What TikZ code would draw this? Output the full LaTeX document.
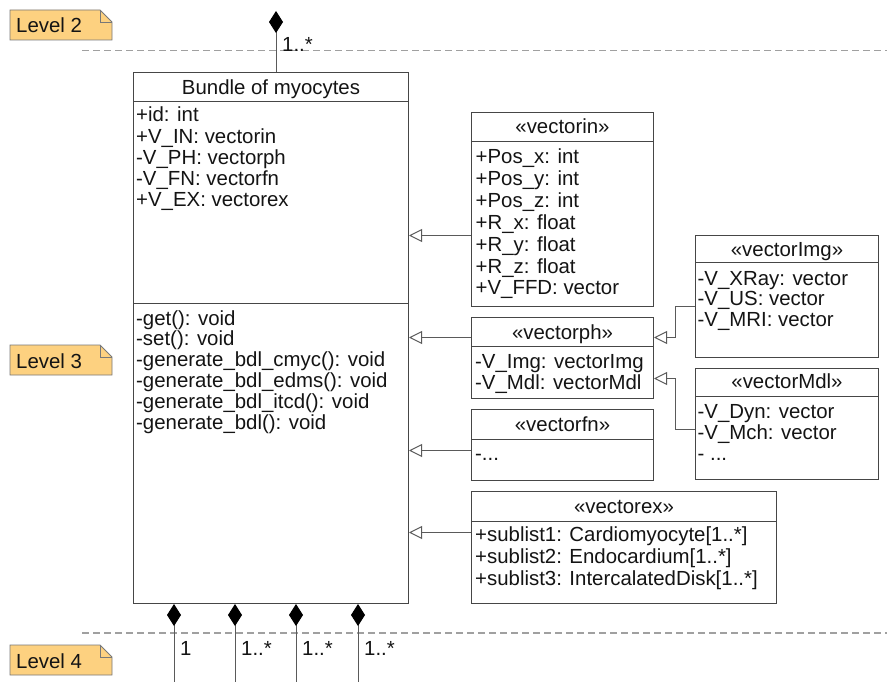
\documentclass[tikz,border=0pt]{standalone}
\usepackage{fontspec}
\setmainfont{Liberation Sans}
\usetikzlibrary{arrows.meta}

\definecolor{notefill}{RGB}{253,209,128}
\definecolor{noteline}{RGB}{120,120,120}
\definecolor{boxline}{RGB}{70,70,70}
\definecolor{linkline}{RGB}{90,90,90}
\definecolor{levelline}{RGB}{160,160,160}
\definecolor{ink}{RGB}{20,20,20}

\begin{document}
\begin{tikzpicture}[x=1pt,y=-1pt,
  classbox/.style={draw=boxline, line width=1pt, fill=white, inner sep=0pt, anchor=north west},
  sepline/.style={draw=boxline, line width=1pt},
  txt/.style={font=\fontsize{20.4}{22}\selectfont, text=ink, inner sep=0pt, anchor=base west},
  title/.style={txt, anchor=base},
  gen/.style={draw=linkline, line width=1pt, -{Triangle[open,length=13pt,width=13pt]}},
  comp/.style={draw=linkline, line width=1pt, {Diamond[length=22pt,width=14pt,color=black]}-},
  level/.style={draw=levelline, line width=1.2pt, dash pattern=on 7pt off 4pt},
  note/.style={draw=noteline, fill=notefill, line width=0.8pt},
]
\useasboundingbox (0,0) rectangle (887,682);

% ---- level separators ----
\draw[level] (82,50.5) -- (887,50.5);
\draw[level] (82,633) -- (887,633);

% ---- level notes ----
\foreach \lv/\yt in {2/10,3/345,4/645} {
  \path[note] (10,\yt) -- (100,\yt) -- (112,{\yt+12}) -- (112,{\yt+30}) -- (10,{\yt+30}) -- cycle;
  \draw[draw=noteline, line width=0.8pt] (100,\yt) -- (100,{\yt+12}) -- (112,{\yt+12});
  \node[txt] (note\lv) at (16,{\yt+23}) {Level \lv};
}

% ---- class boxes ----
\node[classbox, minimum width=275pt, minimum height=531pt] (bun)  at (133,72)  {};
\node[classbox, minimum width=182pt, minimum height=194pt] (vin)  at (471,112) {};
\node[classbox, minimum width=182pt, minimum height=81pt]  (vph)  at (471,317) {};
\node[classbox, minimum width=182pt, minimum height=71pt]  (vfn)  at (471,409) {};
\node[classbox, minimum width=305pt, minimum height=112pt] (vex)  at (471,491) {};
\node[classbox, minimum width=183pt, minimum height=122pt] (vimg) at (695,235) {};
\node[classbox, minimum width=183pt, minimum height=111pt] (vmdl) at (695,368) {};

% header and compartment separators
\foreach \c/\h in {bun/30,vin/30,vph/29,vfn/30,vex/30,vimg/27,vmdl/28}
  \draw[sepline] ([yshift=-\h pt]\c.north west) -- ([yshift=-\h pt]\c.north east);
\draw[sepline] ([yshift=-231pt]bun.north west) -- ([yshift=-231pt]bun.north east);

% ---- titles ----
\node[title] (bun-t)  at ([yshift=-22.5pt]bun.north)  {Bundle of myocytes};
\node[title] (vin-t)  at ([yshift=-22pt]vin.north)    {«vectorin»};
\node[title] (vph-t)  at ([yshift=-22pt]vph.north)    {«vectorph»};
\node[title] (vfn-t)  at ([yshift=-22.5pt]vfn.north)  {«vectorfn»};
\node[title] (vex-t)  at ([yshift=-22.3pt]vex.north)  {«vectorex»};
\node[title] (vimg-t) at ([yshift=-21pt]vimg.north)   {«vectorImg»};
\node[title] (vmdl-t) at ([yshift=-20.5pt]vmdl.north) {«vectorMdl»};

% ---- members ----
\foreach \s [count=\i] in {+id: int, +V\_IN: vectorin, -V\_PH: vectorph, -V\_FN: vectorfn, +V\_EX: vectorex}
  \node[txt] (bun-a\i) at (136,{122+21.2*(\i-1)}) {\s};
\foreach \s [count=\i] in {-get(): void, -set(): void, -generate\_bdl\_cmyc(): void,
    -generate\_bdl\_edms(): void, -generate\_bdl\_itcd(): void, -generate\_bdl(): void}
  \node[txt] (bun-m\i) at (136,{325+20.8*(\i-1)}) {\s};
\foreach \s [count=\i] in {+Pos\_x: int, +Pos\_y: int, +Pos\_z: int, +R\_x: float,
    +R\_y: float, +R\_z: float, +V\_FFD: vector}
  \node[txt] (vin-a\i) at (475.5,{163.5+21.9*(\i-1)}) {\s};
\node[txt] (vph-a1) at (475,368) {-V\_Img: vectorImg};
\node[txt] (vph-a2) at (475,389) {-V\_Mdl: vectorMdl};
\node[txt] (vfn-a1) at (475,460) {-...};
\node[txt] (vex-a1) at (475,541.7) {+sublist1: Cardiomyocyte[1..*]};
\node[txt] (vex-a2) at (475,563.4) {+sublist2: Endocardium[1..*]};
\node[txt] (vex-a3) at (475,585.1) {+sublist3: IntercalatedDisk[1..*]};
\node[txt] (vimg-a1) at (697.5,285)   {-V\_XRay: vector};
\node[txt] (vimg-a2) at (697.5,305.8) {-V\_US: vector};
\node[txt] (vimg-a3) at (697.5,326.6) {-V\_MRI: vector};
\node[txt] (vmdl-a1) at (697.5,418.3) {-V\_Dyn: vector};
\node[txt] (vmdl-a2) at (697.5,439.3) {-V\_Mch: vector};
\node[txt] (vmdl-a3) at (697.5,460.3) {- ...};

% ---- generalizations ----
\path ([yshift=-26pt]vin.west)    coordinate (gin);
\path ([yshift=20.5pt]vph.west)   coordinate (gph);
\path ([yshift=-5.5pt]vfn.west)   coordinate (gfn);
\path ([yshift=15pt]vex.west)     coordinate (gex);
\draw[gen] (gin) -- (gin -| bun.east);
\draw[gen] (gph) -- (gph -| bun.east);
\draw[gen] (gfn) -- (gfn -| bun.east);
\draw[gen] (gex) -- (gex -| bun.east);

\path ([yshift=-10pt]vimg.west)   coordinate (gimg);
\path ([yshift=20.5pt]vph.east)   coordinate (phi);
\path ([yshift=-5.5pt]vmdl.west)  coordinate (gmdl);
\path ([yshift=-20.5pt]vph.east)  coordinate (phm);
\draw[gen] (gimg) -- ++(-20,0) |- (phi);
\draw[gen] (gmdl) -- ++(-20,0) |- (phm);

% ---- compositions ----
\coordinate (up) at (276,11);
\draw[comp] (up) -- (up |- bun.north);
\node[txt] (up-m) at (282,52) {1..*};

\coordinate (dn1) at (174,682);
\coordinate (dn2) at (235,682);
\coordinate (dn3) at (296,682);
\coordinate (dn4) at (358,682);
\foreach \i in {1,2,3,4}
  \draw[comp] (dn\i |- bun.south) -- (dn\i);
\node[txt] (dn1-m) at (180,655) {1};
\node[txt] (dn2-m) at (241,655) {1..*};
\node[txt] (dn3-m) at (302,655) {1..*};
\node[txt] (dn4-m) at (364,655) {1..*};
\end{tikzpicture}
\end{document}
